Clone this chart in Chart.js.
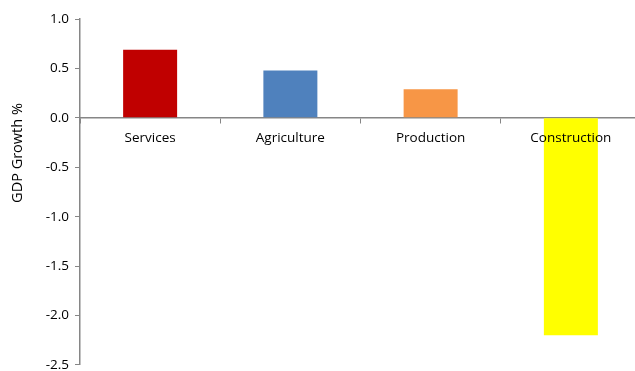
<!DOCTYPE html>
<html lang="en">
<head>
    <meta charset="UTF-8">
    <script src="https://cdn.jsdelivr.net/npm/chart.js"></script>
    <title>GDP Growth by Sector</title>
    <style>
        body {
            margin: 0;
            padding: 0;
            background-color: #ffffff;
            overflow: hidden;
        }

        .container {
            width: 641px;
            height: 379px;
        }
    </style>
</head>
<body>

    <div class="container">
        <canvas id="myChart"></canvas>
    </div>

    <script>
        const sectors = ['Services', 'Agriculture', 'Production', 'Construction'];
        const growth = [0.69, 0.48, 0.29, -2.2];
        const barColors = ['#C00000', '#4F81BD', '#F79646', '#FFFF00'];
        const yTitle = 'GDP Growth %';

        const axisGray = '#868686';
        const labelFont = { family: "'Open Sans', 'Liberation Sans', sans-serif", size: 13.5 };

        // y axis title, placed like the original (not centred on the plot)
        const yTitlePlugin = {
            id: 'yTitle',
            afterDraw(chart) {
                const ctx = chart.ctx;
                ctx.save();
                ctx.translate(18, 153);
                ctx.rotate(-Math.PI / 2);
                ctx.font = "14.5px 'Open Sans', 'Liberation Sans', sans-serif";
                ctx.fillStyle = '#000';
                ctx.textAlign = 'center';
                ctx.textBaseline = 'middle';
                ctx.fillText(yTitle, 0, 0);
                ctx.restore();
            }
        };

        const chartConfig = {
            type: 'bar',
            data: {
                labels: sectors,
                datasets: [{
                    data: growth,
                    backgroundColor: barColors,
                    borderWidth: 0,
                    barPercentage: 0.385,
                    categoryPercentage: 1.0
                }]
            },
            options: {
                responsive: true,
                maintainAspectRatio: false,
                animation: false,
                layout: {
                    padding: { top: 19, bottom: 0, left: 0, right: 0 }
                },
                plugins: {
                    legend: { display: false },
                    tooltip: { enabled: false }
                },
                scales: {
                    x: {
                        position: { y: 0 },
                        border: { color: axisGray, width: 1.5 },
                        grid: {
                            offset: true,
                            drawOnChartArea: false,
                            drawTicks: true,
                            tickLength: 5,
                            color: axisGray
                        },
                        ticks: {
                            z: 1,
                            color: '#000',
                            font: labelFont,
                            padding: 7,
                            maxRotation: 0
                        }
                    },
                    y: {
                        min: -2.5,
                        max: 1.0,
                        afterFit(scale) { scale.width = 80; },
                        border: { color: axisGray, width: 1.5 },
                        grid: {
                            drawOnChartArea: false,
                            drawTicks: true,
                            tickLength: 5,
                            color: axisGray
                        },
                        ticks: {
                            stepSize: 0.5,
                            color: '#000',
                            font: labelFont,
                            padding: 6,
                            callback: v => v.toFixed(1)
                        }
                    }
                }
            },
            plugins: [yTitlePlugin]
        };

        var myChart = new Chart(document.getElementById('myChart'), chartConfig);
    </script>

</body>
</html>
